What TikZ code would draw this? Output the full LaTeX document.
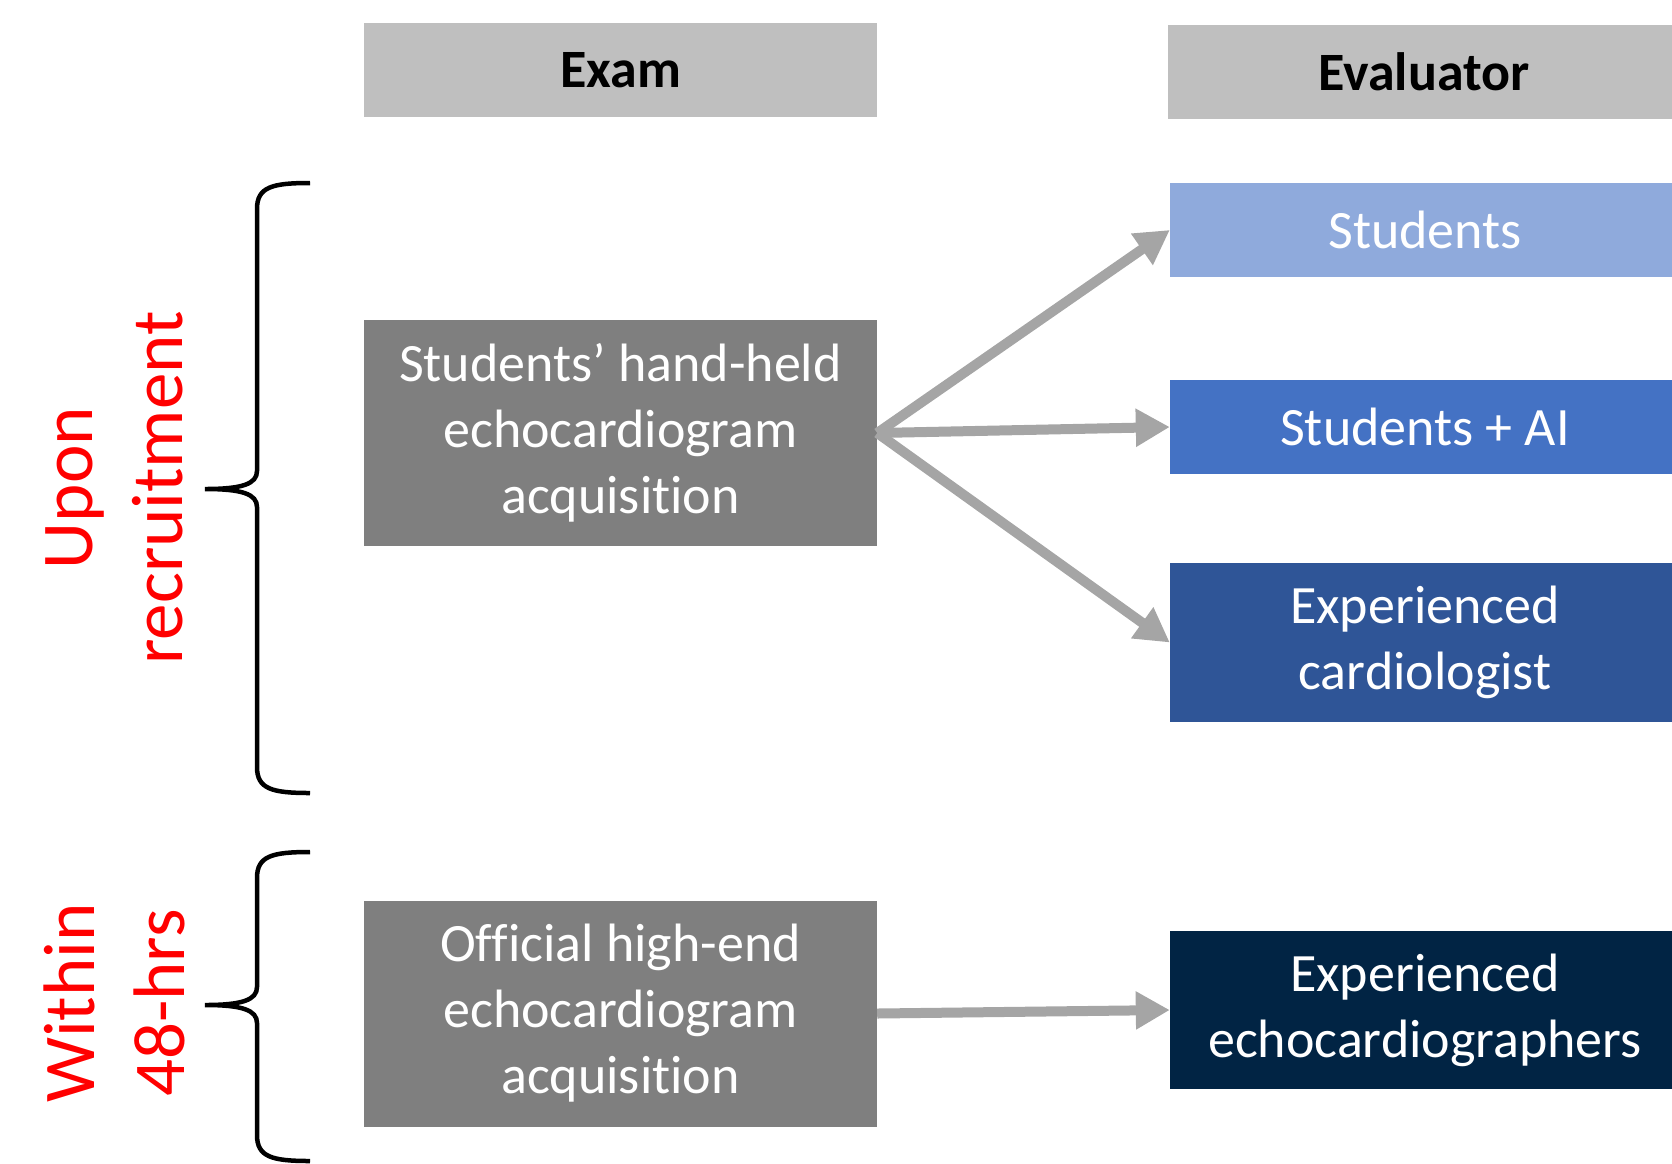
\documentclass[tikz,border=0pt]{standalone}
\usepackage{fontspec}
\setmainfont[Ligatures = NoCommon]{Carlito}
\usetikzlibrary{arrows.meta}
\definecolor{headgray}{HTML}{BFBFBF}
\definecolor{examgray}{HTML}{7F7F7F}
\definecolor{arrowgray}{HTML}{A5A5A5}
\definecolor{blueA}{HTML}{8FAADC}
\definecolor{blueB}{HTML}{4472C4}
\definecolor{blueC}{HTML}{2F5597}
\definecolor{blueD}{HTML}{012444}
\newcommand\sidebrace[3]{
  \draw[line width = 4.5pt] (310, #1) .. controls (272, #1) and (257, #1 + 4) .. (257, #1 + 26)
  -- (257, #2 - 18) .. controls (257, #2 - 5) and (242, #2) .. (205, #2)
  .. controls (242, #2) and (257, #2 + 5) .. (257, #2 + 18)
  -- (257, #3 - 26) .. controls (257, #3 - 4) and (272, #3) .. (310, #3);}
\newcommand\acq{acquisit\kern0pt ion}

\begin{document}
\begin{tikzpicture}[x = 1pt, y = -1pt,
  box/.style = {inner sep = 0, align = center, text = white,
    font = \fontsize{54}{66}\selectfont},
  head/.style = {box, fill = headgray, text = black,
    font = \fontsize{54}{66}\selectfont\bfseries,
    minimum width = 513pt, minimum height = 94pt},
  exambox/.style = {box, fill = examgray, minimum width = 513pt, minimum height = 226pt},
  evalbox/.style = {box, minimum width = 510pt},
  feed/.style = {draw = arrowgray, line width = 10pt,
    -{Triangle[length = 34pt, width = 36pt]}},
  when/.style = {red, rotate = 90, align = center,
    font = \fontsize{73}{90}\selectfont}]
  \useasboundingbox (0, 0) rectangle (1672, 1163);

  \node[head] (exam) at (620.5, 70) {Exam};
  \node[head] (evaluator) at (1424, 72) {Evaluator};

  \node[exambox] (handheld) at (620.5, 433)
    {Students’ hand-held\\echocardiogram\\\acq};
  \node[exambox] (official) at (620.5, 1013.5)
    {Official high-end\\echocardiogram\\\acq};

  \node[evalbox, fill = blueA, minimum height = 94pt] (students) at (1425, 230) {Students};
  \node[evalbox, fill = blueB, minimum height = 94pt] (studentsai) at (1425, 427) {Students + AI};
  \node[evalbox, fill = blueC, minimum height = 159pt] (cardio) at (1425, 642.5)
    {Experienced\\cardiologist};
  \node[evalbox, fill = blueD, minimum height = 158pt] (echo) at (1425, 1010)
    {Experienced\\echocardiographers};

  \draw[feed] (handheld.east) -- (students.west);
  \draw[feed] (handheld.east) -- (studentsai.west);
  \draw[feed] (handheld.east) -- (cardio.west);
  \draw[feed] (official.east) -- (echo.west);

  % time frames
  \sidebrace{183}{489}{793}
  \sidebrace{852}{1005}{1161}
  \node[when] (upon) at (114, 488) {Upon\\recruitment};
  \node[when] (within) at (114, 1003) {Within\\48-hrs};
\end{tikzpicture}
\end{document}
